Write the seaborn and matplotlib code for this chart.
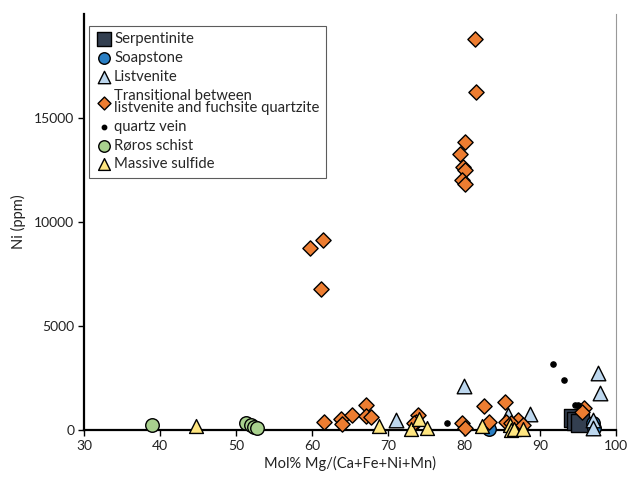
import pandas as pd
import matplotlib
matplotlib.use("Agg")
import matplotlib.pyplot as plt
import seaborn as sns

# Data: Mol% Mg/(Ca+Fe+Ni+Mn) vs Ni (ppm)
serp_x = [94.3, 94.7, 95.2]
serp_y = [560, 420, 350]

soap_x = [83.2, 96.9, 97.0]
soap_y = [60, 320, 90]

list_x = [80.0, 97.6, 97.9, 71.0, 85.75, 88.65, 96.9, 96.9]
list_y = [2130, 2745, 1755, 480, 720, 770, 480, 80]

trans_x = [81.47, 81.6, 80.13, 79.48, 79.83, 80.13, 79.7, 80.13,
           61.39, 59.74, 61.21,
           61.6, 63.8, 63.9, 65.3, 67.1, 67.1, 67.7,
           73.86, 73.6, 73.4, 79.7, 80.13, 82.6, 83.2,
           85.3, 85.5, 87.05, 86.2, 87.7, 95.8, 95.5]
trans_y = [18810, 16250, 13830, 13280, 12620, 12500, 12020, 11810,
           9150, 8730, 6800,
           400, 540, 270, 730, 1200, 670, 640,
           720, 400, 320, 320, 80, 1150, 400,
           1360, 400, 480, 320, 240, 1050, 880]

qv_x = [91.7, 93.1, 94.6, 95.0, 77.7, 82.4]
qv_y = [3160, 2400, 1180, 1180, 320, 240]

roros_x = [39.0, 51.3, 52.0, 52.4, 52.8]
roros_y = [240, 350, 220, 120, 80]

ms_x = [44.7, 68.8, 73.0, 74.07, 75.15, 82.3, 86.0, 86.2, 86.6, 87.7]
ms_y = [200, 200, 30, 540, 80, 190, 240, 0, 60, 60]

groups = [
    ("Serpentinite", serp_x, serp_y, "s", "#333F50", 160),
    ("Soapstone", soap_x, soap_y, "o", "#2A7FC4", 95),
    ("Listvenite", list_x, list_y, "^", "#BDD7EE", 110),
    ("Transitional between\nlistvenite and fuchsite quartzite", trans_x, trans_y, "D", "#ED7D31", 60),
    ("quartz vein", qv_x, qv_y, "o", "black", 14),
    ("Røros schist", roros_x, roros_y, "o", "#A9D18E", 95),
    ("Massive sulfide", ms_x, ms_y, "^", "#FFE680", 100),
]

sns.set_theme(style="white")
plt.rcParams['font.family'] = ['Lato', 'DejaVu Sans']

fig = plt.figure(figsize=(6.3, 4.82), dpi=100)
ax = fig.add_axes([0.1333, 0.108, 0.845, 0.863])

for label, xs, ys, marker, color, size in groups:
    df = pd.DataFrame({'x': xs, 'y': ys})
    sns.scatterplot(data=df, x='x', y='y', marker=marker, color=color, s=size,
                    edgecolor='black', linewidth=1.0, label=label, ax=ax,
                    zorder=3, clip_on=False)

ax.set_xlim(30, 100)
ax.set_ylim(0, 20000)
ax.set_xticks([30, 40, 50, 60, 70, 80, 90, 100])
ax.set_yticks([0, 5000, 10000, 15000])
ax.tick_params(axis='both', which='both', direction='out', length=4, width=1,
               color='black', labelsize=10, labelcolor='#222222', pad=3,
               bottom=True, left=True)

ax.spines['top'].set_visible(False)
ax.spines['left'].set_color('black')
ax.spines['left'].set_linewidth(1.6)
ax.spines['bottom'].set_color('black')
ax.spines['bottom'].set_linewidth(1.6)
ax.spines['right'].set_color('#999999')
ax.spines['right'].set_linewidth(0.8)

ax.set_xlabel('Mol% Mg/(Ca+Fe+Ni+Mn)', fontsize=10.5, color='#222222', labelpad=3)
ax.set_ylabel('Ni (ppm)', fontsize=10.5, color='#222222', labelpad=6)

leg = ax.legend(loc='upper left', bbox_to_anchor=(0.009, 0.972), borderaxespad=0,
                fontsize=10.7, frameon=True, fancybox=False, edgecolor='#333333',
                handletextpad=0.15, labelspacing=0.32, borderpad=0.45,
                handlelength=1.1, markerscale=0.85)
leg.get_frame().set_linewidth(0.8)
for t in leg.get_texts():
    t.set_linespacing(0.85)

fig.savefig('out.png', dpi=100)
